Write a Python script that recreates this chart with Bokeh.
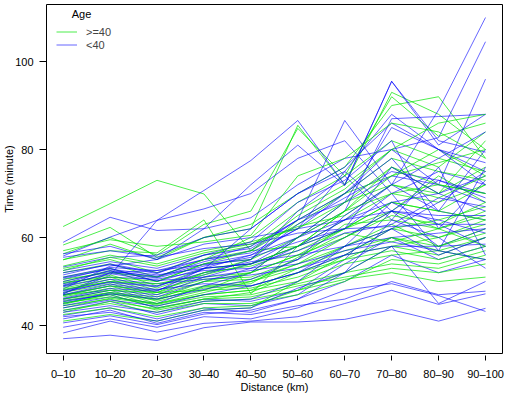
from bokeh.plotting import figure
from bokeh.models import Range1d, FixedTicker, Legend, LegendItem, Label
from bokeh.embed import file_html
from bokeh.resources import INLINE

distance_labels = ["0–10", "10–20", "20–30", "30–40", "40–50",
                   "50–60", "60–70", "70–80", "80–90", "90–100"]
y_ticks = [40, 60, 80, 100]

# Age >= 40 (green)
green_series = [
    [62.5, 67.7, 73.0, 69.9, 57.0, 58.0, 62.0, 66.0, 62.0, 66.0],
    [58.3, 62.3, 55.5, 60.0, 62.0, 85.5, 72.0, 93.0, 88.0, 80.0],
    [56.3, 60.0, 56.0, 63.0, 66.0, 84.8, 74.0, 92.0, 83.0, 86.0],
    [54.9, 58.5, 55.0, 60.0, 63.0, 70.0, 76.0, 90.0, 92.0, 78.0],
    [53.0, 55.0, 52.0, 56.0, 58.0, 66.0, 72.0, 80.0, 76.0, 84.0],
    [52.0, 54.0, 51.0, 55.0, 57.0, 63.0, 70.0, 74.0, 80.0, 74.0],
    [51.0, 53.0, 50.0, 54.0, 55.0, 60.0, 68.0, 72.0, 70.0, 76.0],
    [50.0, 52.5, 49.0, 53.0, 54.0, 58.0, 64.0, 70.0, 72.0, 70.0],
    [49.5, 51.5, 48.5, 52.0, 53.5, 57.0, 62.0, 68.0, 66.0, 72.0],
    [49.0, 51.0, 48.0, 51.0, 52.0, 56.0, 60.0, 66.0, 74.0, 68.0],
    [48.5, 50.5, 47.5, 50.5, 51.0, 55.0, 63.0, 64.0, 62.0, 65.0],
    [48.0, 50.0, 47.0, 50.0, 50.5, 54.0, 58.0, 62.0, 64.0, 67.0],
    [47.5, 49.5, 46.5, 49.0, 50.0, 53.0, 57.0, 60.0, 58.0, 62.0],
    [47.0, 49.0, 46.0, 48.5, 49.0, 52.0, 56.0, 58.0, 60.0, 63.0],
    [46.5, 48.5, 45.5, 48.0, 48.5, 51.0, 55.0, 57.0, 55.0, 58.0],
    [46.0, 48.0, 45.0, 47.0, 48.0, 50.0, 54.0, 56.0, 57.0, 60.0],
    [45.5, 47.5, 44.5, 46.5, 47.0, 49.5, 52.0, 54.0, 53.0, 56.0],
    [45.0, 47.0, 44.0, 46.0, 46.5, 49.0, 51.0, 53.0, 52.0, 54.0],
    [44.5, 46.0, 43.5, 45.5, 46.0, 48.0, 50.5, 52.0, 50.0, 51.0],
    [43.5, 45.0, 43.0, 45.0, 45.0, 47.0, 50.0, 55.0, 54.0, 57.0],
    [42.5, 44.0, 42.0, 44.0, 44.5, 48.0, 52.0, 58.0, 56.0, 60.0],
    [41.0, 42.5, 41.0, 43.5, 44.0, 50.0, 56.0, 62.0, 60.0, 64.0],
    [46.0, 47.5, 46.0, 50.0, 52.0, 60.0, 66.0, 76.0, 72.0, 70.0],
    [47.0, 48.0, 47.5, 52.0, 55.0, 64.0, 70.0, 78.0, 75.0, 73.0],
    [50.5, 52.0, 51.0, 55.0, 60.0, 68.0, 74.0, 82.0, 78.0, 75.0],
    [53.5, 56.0, 54.0, 57.0, 59.0, 62.0, 68.0, 76.0, 70.0, 82.0],
    [55.0, 57.0, 56.5, 64.0, 47.2, 58.0, 66.0, 70.0, 68.0, 72.0],
    [48.2, 50.0, 49.5, 51.5, 54.0, 58.0, 66.0, 74.0, 77.0, 80.0],
    [46.8, 49.0, 47.5, 48.0, 52.0, 56.0, 62.0, 68.0, 66.0, 64.0],
    [45.2, 46.5, 45.0, 47.5, 50.0, 54.0, 60.0, 65.0, 63.0, 68.0],
    [44.0, 46.2, 44.8, 47.0, 48.0, 53.0, 58.0, 63.0, 58.0, 61.0],
    [43.0, 45.5, 43.8, 46.0, 47.5, 52.0, 55.0, 60.0, 57.0, 55.0],
    [52.5, 55.5, 53.5, 56.5, 58.5, 62.5, 65.0, 72.0, 69.0, 74.0],
    [57.0, 59.5, 58.0, 59.0, 60.5, 74.0, 78.0, 86.0, 84.0, 78.0],
    [49.8, 51.0, 50.0, 54.0, 57.0, 65.0, 71.0, 80.0, 86.0, 88.0],
    [44.8, 47.2, 45.8, 48.8, 49.5, 55.5, 61.0, 59.0, 62.0, 58.0],
]

# Age < 40 (blue)
blue_series = [
    [37.0, 37.8, 36.6, 39.5, 40.8, 40.8, 41.4, 43.6, 41.0, 43.9],
    [38.3, 41.0, 38.5, 40.5, 41.0, 42.0, 45.0, 48.0, 44.8, 47.2],
    [39.6, 41.5, 39.6, 42.0, 41.5, 44.0, 48.0, 49.5, 46.8, 43.2],
    [41.5, 43.5, 40.5, 43.0, 42.5, 44.5, 46.0, 50.0, 47.0, 47.8],
    [42.3, 44.0, 41.5, 44.0, 43.0, 46.0, 50.0, 56.0, 52.0, 55.0],
    [43.4, 45.5, 42.5, 45.0, 44.5, 47.0, 54.0, 60.0, 55.0, 58.0],
    [45.7, 47.0, 44.0, 46.0, 45.5, 48.0, 55.0, 66.0, 58.0, 62.0],
    [47.2, 51.4, 63.9, 70.7, 77.5, 86.6, 72.0, 95.5, 81.0, 88.0],
    [47.2, 52.0, 52.5, 55.0, 58.0, 64.0, 86.6, 72.0, 66.0, 64.0],
    [48.3, 53.5, 55.0, 62.0, 72.0, 81.0, 71.8, 95.5, 82.0, 79.4],
    [49.5, 52.5, 51.0, 54.0, 56.0, 60.0, 66.0, 87.0, 87.5, 88.0],
    [50.5, 53.0, 50.0, 53.0, 54.0, 58.0, 64.0, 72.0, 89.0, 110.0],
    [51.5, 54.0, 52.0, 55.0, 56.5, 62.0, 70.0, 80.0, 82.7, 104.5],
    [52.5, 54.5, 53.0, 56.0, 57.5, 64.0, 68.0, 74.0, 72.0, 96.0],
    [53.3, 55.5, 56.0, 60.0, 62.0, 70.0, 76.0, 86.0, 80.0, 75.0],
    [56.3, 58.0, 55.0, 58.5, 60.0, 62.0, 64.0, 66.0, 65.0, 65.0],
    [58.9, 64.6, 61.6, 62.0, 64.5, 72.0, 78.0, 80.0, 72.0, 68.0],
    [55.8, 60.1, 63.9, 66.5, 70.0, 78.0, 82.0, 70.0, 75.0, 72.0],
    [44.5, 46.5, 45.0, 49.0, 52.0, 60.0, 68.0, 85.0, 80.0, 77.0],
    [45.0, 47.5, 46.5, 50.0, 53.0, 58.0, 62.0, 70.0, 57.0, 76.0],
    [46.0, 48.0, 47.0, 51.0, 54.0, 60.0, 64.0, 68.0, 70.0, 74.0],
    [46.8, 49.0, 48.0, 51.5, 55.0, 63.0, 69.0, 75.0, 73.0, 70.0],
    [47.5, 50.0, 49.0, 52.0, 54.5, 56.0, 58.0, 60.0, 61.0, 62.0],
    [48.0, 50.5, 49.5, 50.5, 51.5, 53.0, 56.0, 58.0, 58.0, 58.5],
    [48.8, 51.0, 50.5, 52.5, 53.0, 55.0, 60.0, 66.0, 64.0, 61.0],
    [49.0, 52.0, 50.8, 53.5, 55.5, 59.0, 62.0, 76.0, 70.0, 66.0],
    [50.0, 52.3, 51.2, 54.5, 57.0, 64.0, 70.0, 78.0, 66.0, 80.0],
    [51.0, 53.2, 52.5, 53.8, 55.0, 66.0, 74.0, 64.0, 76.0, 56.0],
    [52.0, 53.8, 51.8, 56.0, 59.0, 68.0, 73.0, 82.0, 62.0, 73.0],
    [55.5, 57.0, 55.5, 57.5, 58.5, 61.0, 62.0, 62.5, 63.0, 63.0],
    [46.2, 48.4, 47.8, 53.0, 56.0, 62.0, 75.0, 88.0, 80.0, 72.0],
    [44.0, 45.8, 44.4, 47.0, 49.0, 52.0, 56.0, 62.0, 68.0, 75.0],
    [43.0, 44.5, 43.0, 45.5, 46.0, 50.0, 58.0, 68.0, 63.0, 58.0],
    [42.0, 43.0, 41.0, 43.5, 44.0, 48.5, 52.0, 64.0, 60.0, 53.0],
    [49.2, 51.8, 50.2, 51.0, 52.5, 54.0, 57.0, 59.0, 57.0, 55.0],
    [50.8, 52.8, 51.5, 53.0, 54.0, 57.0, 61.0, 63.0, 69.0, 67.0],
    [47.8, 49.8, 48.8, 52.8, 62.0, 70.0, 75.0, 66.0, 73.0, 69.0],
    [45.4, 47.2, 46.0, 48.2, 50.5, 55.0, 65.0, 72.0, 78.0, 84.0],
    [40.6, 42.2, 40.2, 42.6, 43.5, 46.0, 52.0, 58.0, 45.0, 50.0],
    [47.0, 49.4, 48.2, 49.5, 49.0, 52.0, 58.0, 62.0, 56.0, 60.0],
]

GREEN = "#00E600"
BLUE = "#0000FF"
FONT = "Liberation Sans"

xs = list(range(1, len(distance_labels) + 1))

p = figure(width=505, height=400, output_backend="svg", toolbar_location=None,
           x_range=Range1d(0.645, 10.362), y_range=Range1d(33.64, 112.96),
           min_border_left=46, min_border_right=3, min_border_top=4, min_border_bottom=47)
p.xgrid.visible = False
p.ygrid.visible = False
p.outline_line_color = "black"
p.outline_line_width = 1
p.outline_line_alpha = 1.0
p.background_fill_color = "white"
p.border_fill_color = "white"

g_first = None
b_first = None
n = max(len(green_series), len(blue_series))
for i in range(n):
    if i < len(green_series):
        r = p.line(xs, green_series[i], line_color=GREEN, line_alpha=0.7, line_width=1)
        if g_first is None:
            g_first = r
    if i < len(blue_series):
        r = p.line(xs, blue_series[i], line_color=BLUE, line_alpha=0.6, line_width=1)
        if b_first is None:
            b_first = r

for ax in (p.xaxis[0], p.yaxis[0]):
    ax.axis_line_color = None
    ax.minor_tick_line_color = None
    ax.major_tick_line_color = "black"
    ax.major_label_text_font = FONT
    ax.major_label_text_font_size = "11px"
    ax.major_label_text_color = "black"
    ax.axis_label_text_font = FONT
    ax.axis_label_text_font_size = "11px"
    ax.axis_label_text_font_style = "normal"
    ax.axis_label_text_color = "black"

p.xaxis.ticker = FixedTicker(ticks=xs)
p.xaxis.major_label_overrides = {x: lab for x, lab in zip(xs, distance_labels)}
p.xaxis.major_tick_out = 7
p.xaxis.major_tick_in = -2
p.xaxis.major_label_standoff = 7
p.xaxis.axis_label = "Distance (km)"
p.xaxis.axis_label_standoff = -2

p.yaxis.ticker = FixedTicker(ticks=y_ticks)
p.yaxis.major_tick_out = 7
p.yaxis.major_tick_in = 0
p.yaxis.major_label_standoff = 6
p.yaxis.axis_label = "Time (minute)"
p.yaxis.axis_label_standoff = -3

legend = Legend(items=[LegendItem(label=">=40", renderers=[g_first]),
                       LegendItem(label="<40", renderers=[b_first])],
                location=(10, 302), padding=0, spacing=0, margin=0,
                glyph_width=21, glyph_height=13, label_height=13, label_standoff=9,
                label_text_font=FONT, label_text_font_size="11px",
                border_line_alpha=0, background_fill_alpha=0)
p.add_layout(legend, "center")

p.add_layout(Label(x=35, y=340, x_units="screen", y_units="screen", text="Age",
                   text_align="center", text_baseline="middle",
                   text_font=FONT, text_font_size="11px", text_color="black"))

open("out.html", "w").write(file_html(p, INLINE))
